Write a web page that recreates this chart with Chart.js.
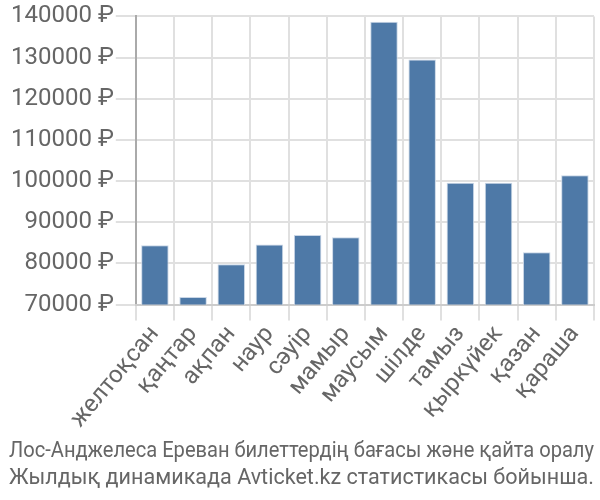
<!DOCTYPE html>
<html>
<head>
<meta charset="utf-8">
<script src="https://cdn.jsdelivr.net/npm/chart.js@4"></script>
<style>
  body { margin: 0; background: #fff; }
  #wrap { width: 600px; height: 500px; }
</style>
</head>
<body>
<div id="wrap"><canvas id="myChart"></canvas></div>
<script>
/******** data */
const months = ["желтоқсан", "қаңтар", "ақпан", "наур", "сәуір", "мамыр",
  "маусым", "шілде", "тамыз", "қыркүйек", "қазан", "қараша"];
const prices = [84400, 71850, 79800, 84550, 86900, 86350,
  138700, 129550, 99600, 99600, 82700, 101400];
const titleLines = [
  "Лос-Анджелеса Ереван билеттердің бағасы және қайта оралу",
  "Жылдық динамикада Avticket.kz статистикасы бойынша."
];

/******** chart */
const ctx = document.getElementById("myChart");
new Chart(ctx, {
  type: "bar",
  data: {
    labels: months,
    datasets: [
      {
        data: prices,
        backgroundColor: "#4e79a7",
        borderColor: "#c9d6e6",
        borderWidth: 1,
        categoryPercentage: 0.72,
        barPercentage: 1,
      },
    ],
  },
  options: {
    animation: false,
    responsive: true,
    maintainAspectRatio: false,
    layout: { padding: { top: 4, right: 6, left: 9, bottom: 0 } },
    plugins: {
      legend: { display: false },
      tooltip: { enabled: false },
      title: {
        display: true,
        position: "bottom",
        text: titleLines,
        color: "#666",
        font: { family: "Roboto", size: 22, weight: "normal", lineHeight: 1.22 },
        padding: { top: 5, bottom: 8 },
      },
    },
    scales: {
      y: {
        min: 70000,
        max: 140000,
        ticks: {
          stepSize: 10000,
          color: "#666",
          font: { family: "Roboto", size: 24 },
          padding: 2,
          callback: (v) => v + " ₽",
        },
        grid: { color: "#e0e0e0", lineWidth: 2, tickLength: 20 },
        border: { color: "#aaa", width: 2 },
      },
      x: {
        ticks: {
          color: "#666",
          font: { family: "Roboto", size: 24 },
          minRotation: 50,
          maxRotation: 50,
          autoSkip: false,
          padding: 0,
        },
        grid: { color: "#e0e0e0", lineWidth: 2, tickLength: 16, offset: true },
        border: { color: "#ccc", width: 2 },
      },
    },
  },
});
</script>
</body>
</html>
